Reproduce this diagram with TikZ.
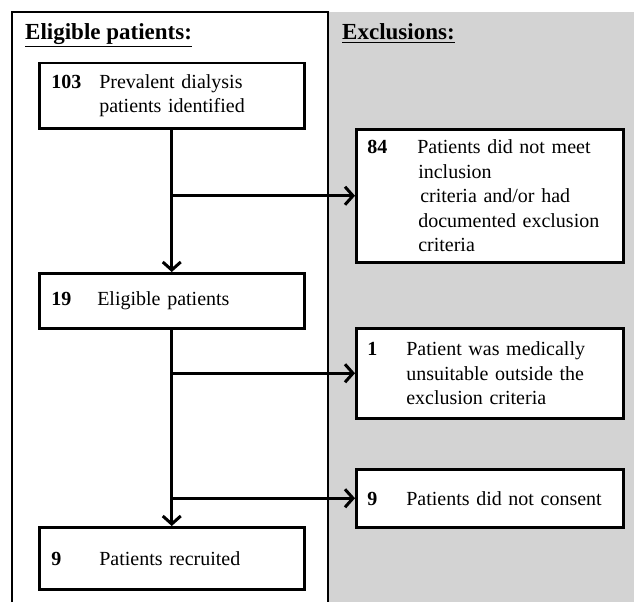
\documentclass[tikz,border=0pt]{standalone}
\usepackage{fontspec}
\setmainfont{Liberation Serif}
\usepackage{xcolor}
\usepackage{tikz}
\usetikzlibrary{calc}
\usetikzlibrary{arrows.meta}
\usetikzlibrary{positioning}
\definecolor{exclgray}{RGB}{211,211,211}
\tikzset{>={Straight Barb[length=8pt,width=18pt,line width=3pt]}}
\tikzstyle{flowbox} = [draw=black, line width=2.5pt, fill=white, anchor=north west, inner ysep=0pt, align=left, font=\fontsize{20}{24.5}\selectfont]
\tikzstyle{leftbox} = [flowbox, inner xsep=12pt, text width=241pt, minimum width=265pt]
\tikzstyle{rightbox} = [flowbox, inner xsep=11pt, text width=245pt, minimum width=267pt]
\tikzstyle{flowline} = [draw=black, line width=3pt]
\tikzstyle{heading} = [anchor=base west, inner sep=0pt, font=\fontsize{23}{26}\selectfont\bfseries]
\newcommand{\boxnum}[2]{\makebox[#1][l]{\textbf{#2}}}

\begin{document}
\begin{tikzpicture}[x=1pt, y=-1pt]
\useasboundingbox (0,0) rectangle (634,602);
% panels
\fill [exclgray] (328,12) rectangle (634,602);
\draw [line width=2.5pt] (12,602) -- (12,12) -- (328,12) -- (328,602);
\node [heading] (TE) at (25,40) {\underline{Eligible patients:}};
\node [heading] (TX) at (342,40) {\underline{Exclusions:}};
% eligible column
\node [leftbox, minimum height=65pt] (P103) at (38,62) {\boxnum{48pt}{103}Prevalent dialysis\\\hspace*{48pt}patients identified};
\node [leftbox, minimum height=55pt] (P19) at (38,272) {\boxnum{46pt}{19}Eligible patients};
\node [leftbox, minimum height=62pt] (P9) at (38,526) {\boxnum{48pt}{9}Patients recruited};
% exclusions column
\node [rightbox, minimum height=133pt] (E84) at (355,128) {\boxnum{50pt}{84}Patients did not meet\\\hspace*{51pt}inclusion\\\hspace*{53pt}criteria and/or had\\\hspace*{51pt}documented exclusion\\\hspace*{51pt}criteria};
\node [rightbox, minimum height=90pt] (E1) at (355,327) {\boxnum{39pt}{1}Patient was medically\\\hspace*{39pt}unsuitable outside the\\\hspace*{39pt}exclusion criteria};
\node [rightbox, minimum height=58pt] (E9) at (355,468) {\boxnum{39pt}{9}Patients did not consent};
% connectors
\draw [flowline, ->] (P103) -- (P19);
\draw [flowline, ->] (P103.south |- E84.west) -- (E84.west);
\draw [flowline, ->] (P19) -- (P9);
\draw [flowline, ->] (P19.south |- E1.west) -- (E1.west);
\draw [flowline, ->] (P19.south |- E9.west) -- (E9.west);
\end{tikzpicture}
\end{document}
